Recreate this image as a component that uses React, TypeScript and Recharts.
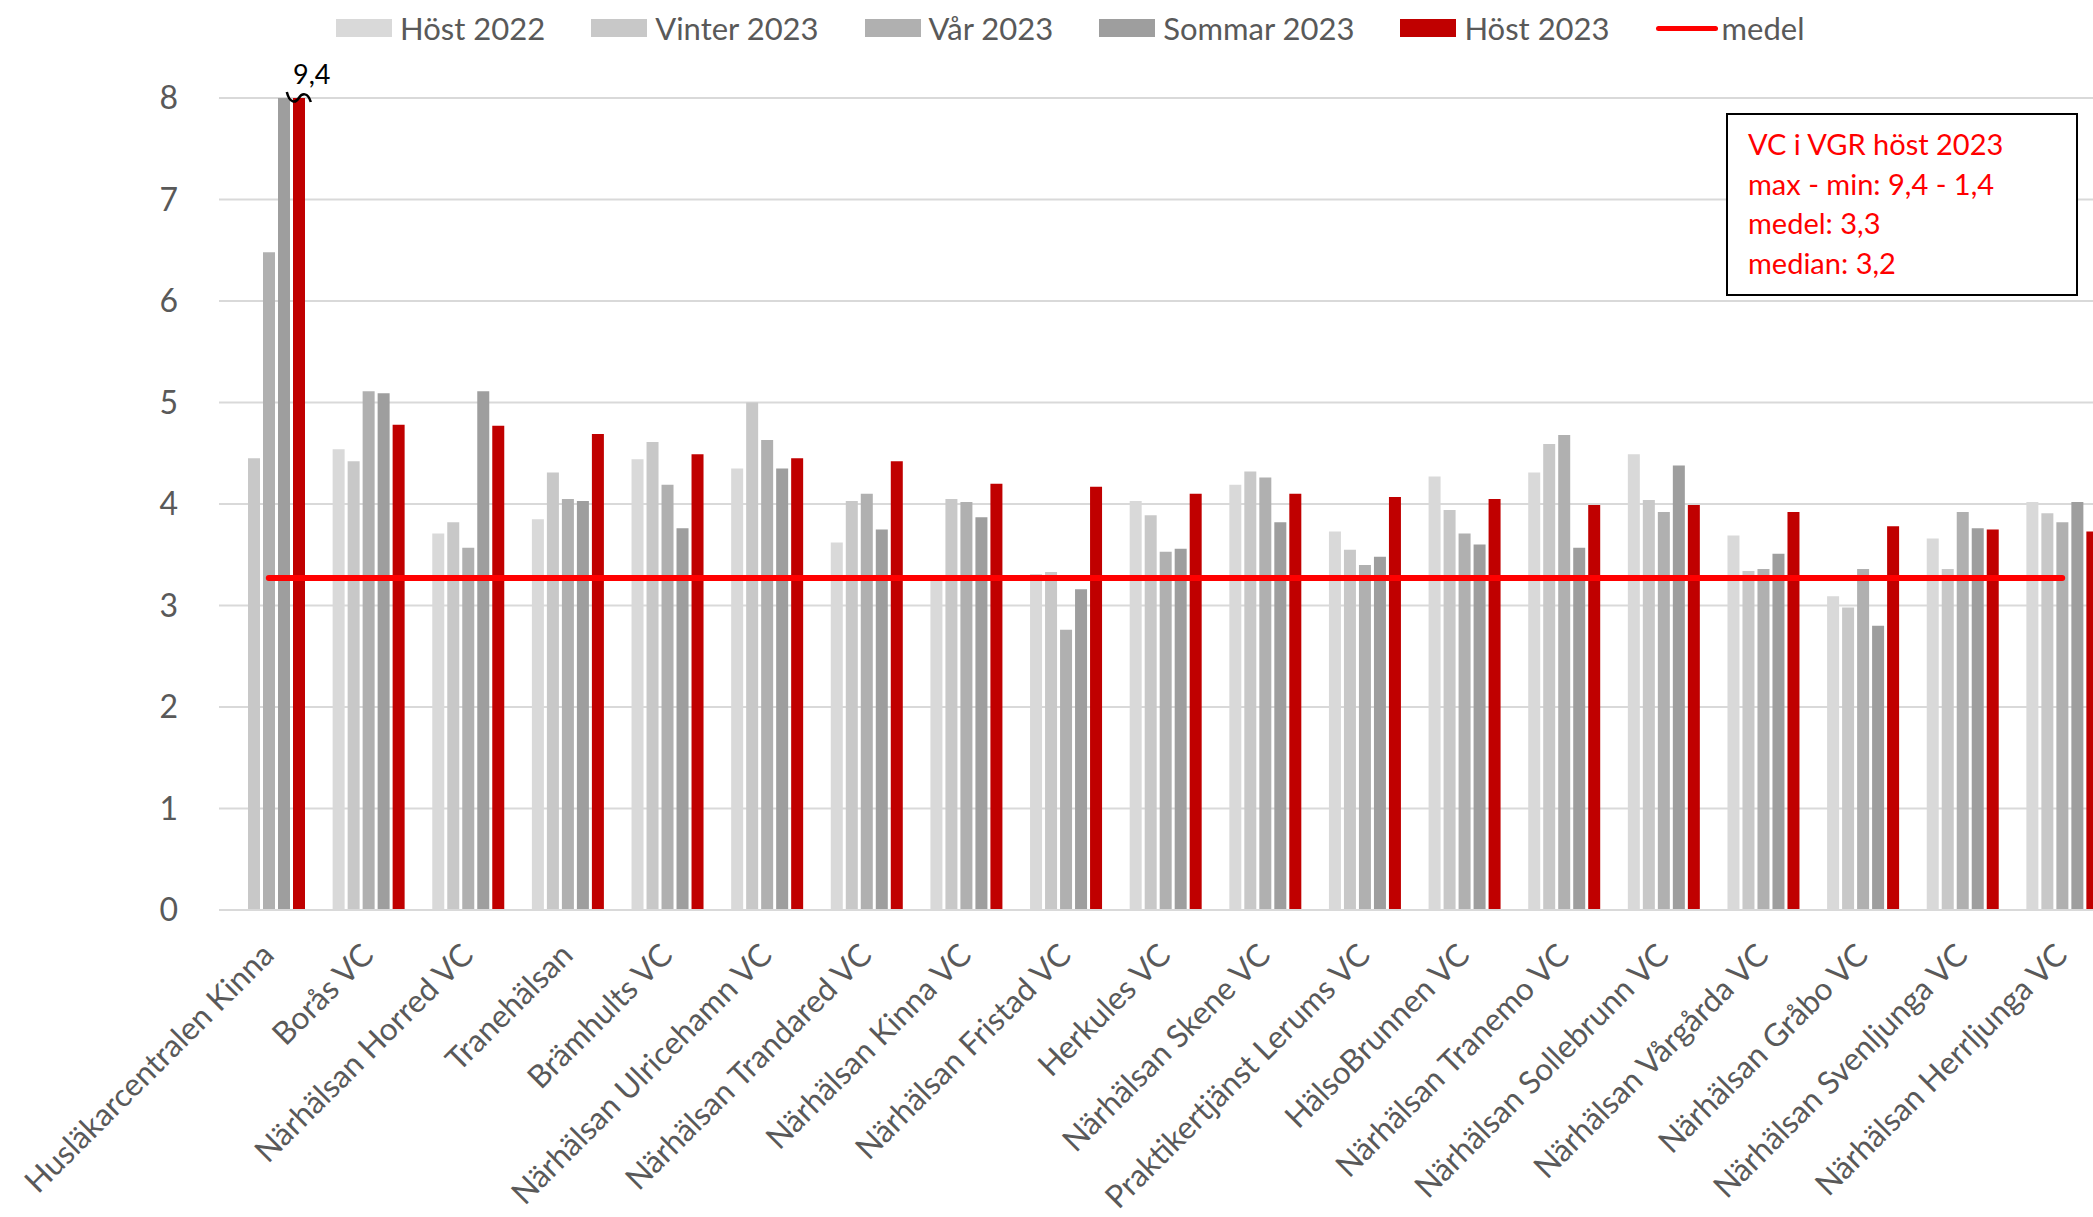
import React from "react";
import {
  ComposedChart,
  Bar,
  Line,
  XAxis,
  YAxis,
  CartesianGrid,
  ReferenceDot,
} from "recharts";

// vårdcentraler (categories)
const categories = [
  "Husläkarcentralen Kinna",
  "Borås VC",
  "Närhälsan Horred VC",
  "Tranehälsan",
  "Brämhults VC",
  "Närhälsan Ulricehamn VC",
  "Närhälsan Trandared VC",
  "Närhälsan Kinna VC",
  "Närhälsan Fristad VC",
  "Herkules VC",
  "Närhälsan Skene VC",
  "Praktikertjänst Lerums VC",
  "HälsoBrunnen VC",
  "Närhälsan Tranemo VC",
  "Närhälsan Sollebrunn VC",
  "Närhälsan Vårgårda VC",
  "Närhälsan Gråbo VC",
  "Närhälsan Svenljunga VC",
  "Närhälsan Herrljunga VC",
];

const host2022 = [null, 4.54, 3.71, 3.85, 4.44, 4.35, 3.62, 3.25, 3.31, 4.03, 4.19, 3.73, 4.27, 4.31, 4.49, 3.69, 3.09, 3.66, 4.02];
const vinter2023 = [4.45, 4.42, 3.82, 4.31, 4.61, 5.0, 4.03, 4.05, 3.33, 3.89, 4.32, 3.55, 3.94, 4.59, 4.04, 3.34, 2.98, 3.36, 3.91];
const var2023 = [6.48, 5.11, 3.57, 4.05, 4.19, 4.63, 4.1, 4.02, 2.76, 3.53, 4.26, 3.4, 3.71, 4.68, 3.92, 3.36, 3.36, 3.92, 3.82];
const sommar2023 = [8.0, 5.09, 5.11, 4.03, 3.76, 4.35, 3.75, 3.87, 3.16, 3.56, 3.82, 3.48, 3.6, 3.57, 4.38, 3.51, 2.8, 3.76, 4.02];
const host2023 = [9.4, 4.78, 4.77, 4.69, 4.49, 4.45, 4.42, 4.2, 4.17, 4.1, 4.1, 4.07, 4.05, 3.99, 3.99, 3.92, 3.78, 3.75, 3.73];
const medel = [3.27, 3.27, 3.27, 3.27, 3.27, 3.27, 3.27, 3.27, 3.27, 3.27, 3.27, 3.27, 3.27, 3.27, 3.27, 3.27, 3.27, 3.27, 3.27];

const yTicks = [0, 1, 2, 3, 4, 5, 6, 7, 8];

const infoLines = ["VC i VGR höst 2023", "max - min: 9,4 - 1,4", "medel: 3,3", "median: 3,2"];

const series = [
  { key: "h22", name: "Höst 2022", color: "#d9d9d9" },
  { key: "v23", name: "Vinter 2023", color: "#c8c8c8" },
  { key: "va23", name: "Vår 2023", color: "#b0b0b0" },
  { key: "s23", name: "Sommar 2023", color: "#9e9e9e" },
  { key: "h23", name: "Höst 2023", color: "#c00000" },
];

const data = categories.map((name, i) => ({
  name,
  h22: host2022[i],
  v23: vinter2023[i],
  va23: var2023[i],
  s23: sommar2023[i],
  h23: host2023[i],
  medel: medel[i],
}));

const FONT = "Lato, 'Open Sans', sans-serif";
const GREY_TEXT = "#595959";

const CategoryTick = (props: any) => {
  const { x, y, payload } = props;
  return (
    <g transform={`translate(${x + 7},${y + 47})`}>
      <text
        transform="rotate(-45)"
        textAnchor="end"
        fill={GREY_TEXT}
        fontSize={31.5}
        fontFamily={FONT}
      >
        {payload.value}
      </text>
    </g>
  );
};

// axis break mark + real value on the clipped Höst 2023 bar
const BreakMark = (props: any) => {
  const { cx, cy } = props;
  const bx = cx + 30;
  return (
    <g>
      <path
        d={`M${bx - 12},${cy - 6} C${bx - 9},${cy + 6} ${bx - 3},${cy + 5} ${bx},${cy} S${bx + 9},${cy - 6} ${bx + 12},${cy + 4}`}
        fill="none"
        stroke="#000"
        strokeWidth={2.5}
      />
      <text x={bx + 13} y={cy - 14} textAnchor="middle" fontSize={27} fontFamily={FONT} fill="#000">
        9,4
      </text>
    </g>
  );
};

export default function App() {
  return (
    <div
      style={{
        position: "fixed",
        left: 0,
        top: 0,
        width: 2093,
        height: 1217,
        overflow: "hidden",
        background: "#fff",
        fontFamily: FONT,
      }}
    >
      <div style={{ position: "absolute", left: 8, top: 8 }}>
        <ComposedChart
          width={2110}
          height={1209}
          data={data}
          margin={{ top: 90, right: 6, bottom: 9, left: 0 }}
          barGap={3}
        >
          <CartesianGrid vertical={false} stroke="#d9d9d9" strokeWidth={2} />
          <XAxis
            dataKey="name"
            interval={0}
            height={298}
            tickLine={false}
            tickSize={0}
            tickMargin={0}
            axisLine={{ stroke: "#d9d9d9", strokeWidth: 2 }}
            tick={<CategoryTick />}
          />
          <YAxis
            width={211}
            domain={[0, 8]}
            ticks={yTicks}
            allowDataOverflow
            tickLine={false}
            axisLine={false}
            tickSize={0}
            tickMargin={41}
            tick={{ fill: GREY_TEXT, fontSize: 32, fontFamily: FONT }}
          />
          {series.map((s) => (
            <Bar
              key={s.key}
              dataKey={s.key}
              name={s.name}
              fill={s.color}
              barSize={12}
              isAnimationActive={false}
            />
          ))}
          <Line
            dataKey="medel"
            name="medel"
            stroke="#ff0000"
            strokeWidth={6}
            strokeLinecap="round"
            dot={false}
            activeDot={false}
            isAnimationActive={false}
          />
          <ReferenceDot x={categories[0]} y={8} r={0} shape={<BreakMark />} />
        </ComposedChart>

        {/* legend */}
        <div
          style={{
            position: "absolute",
            left: 328,
            top: 0,
            height: 40,
            display: "flex",
            alignItems: "center",
            gap: 46,
            fontSize: 31,
            color: GREY_TEXT,
            whiteSpace: "nowrap",
          }}
        >
          {series.map((s) => (
            <div key={s.key} style={{ display: "flex", alignItems: "center" }}>
              <span style={{ width: 56, height: 18, background: s.color, marginRight: 8 }} />
              <span>{s.name}</span>
            </div>
          ))}
          <div style={{ display: "flex", alignItems: "center" }}>
            <span
              style={{ width: 62, height: 5, borderRadius: 3, background: "#ff0000", marginRight: 4 }}
            />
            <span>medel</span>
          </div>
        </div>

        {/* info box */}
        <div
          style={{
            position: "absolute",
            left: 1718,
            top: 105,
            width: 328,
            height: 170,
            border: "2px solid #000",
            paddingTop: 9,
            paddingLeft: 20,
            boxSizing: "content-box",
            color: "#ff0000",
            fontSize: 29,
            lineHeight: "39.5px",
            background: "#fff",
          }}
        >
          {infoLines.map((t) => (
            <div key={t}>{t}</div>
          ))}
        </div>
      </div>
    </div>
  );
}
